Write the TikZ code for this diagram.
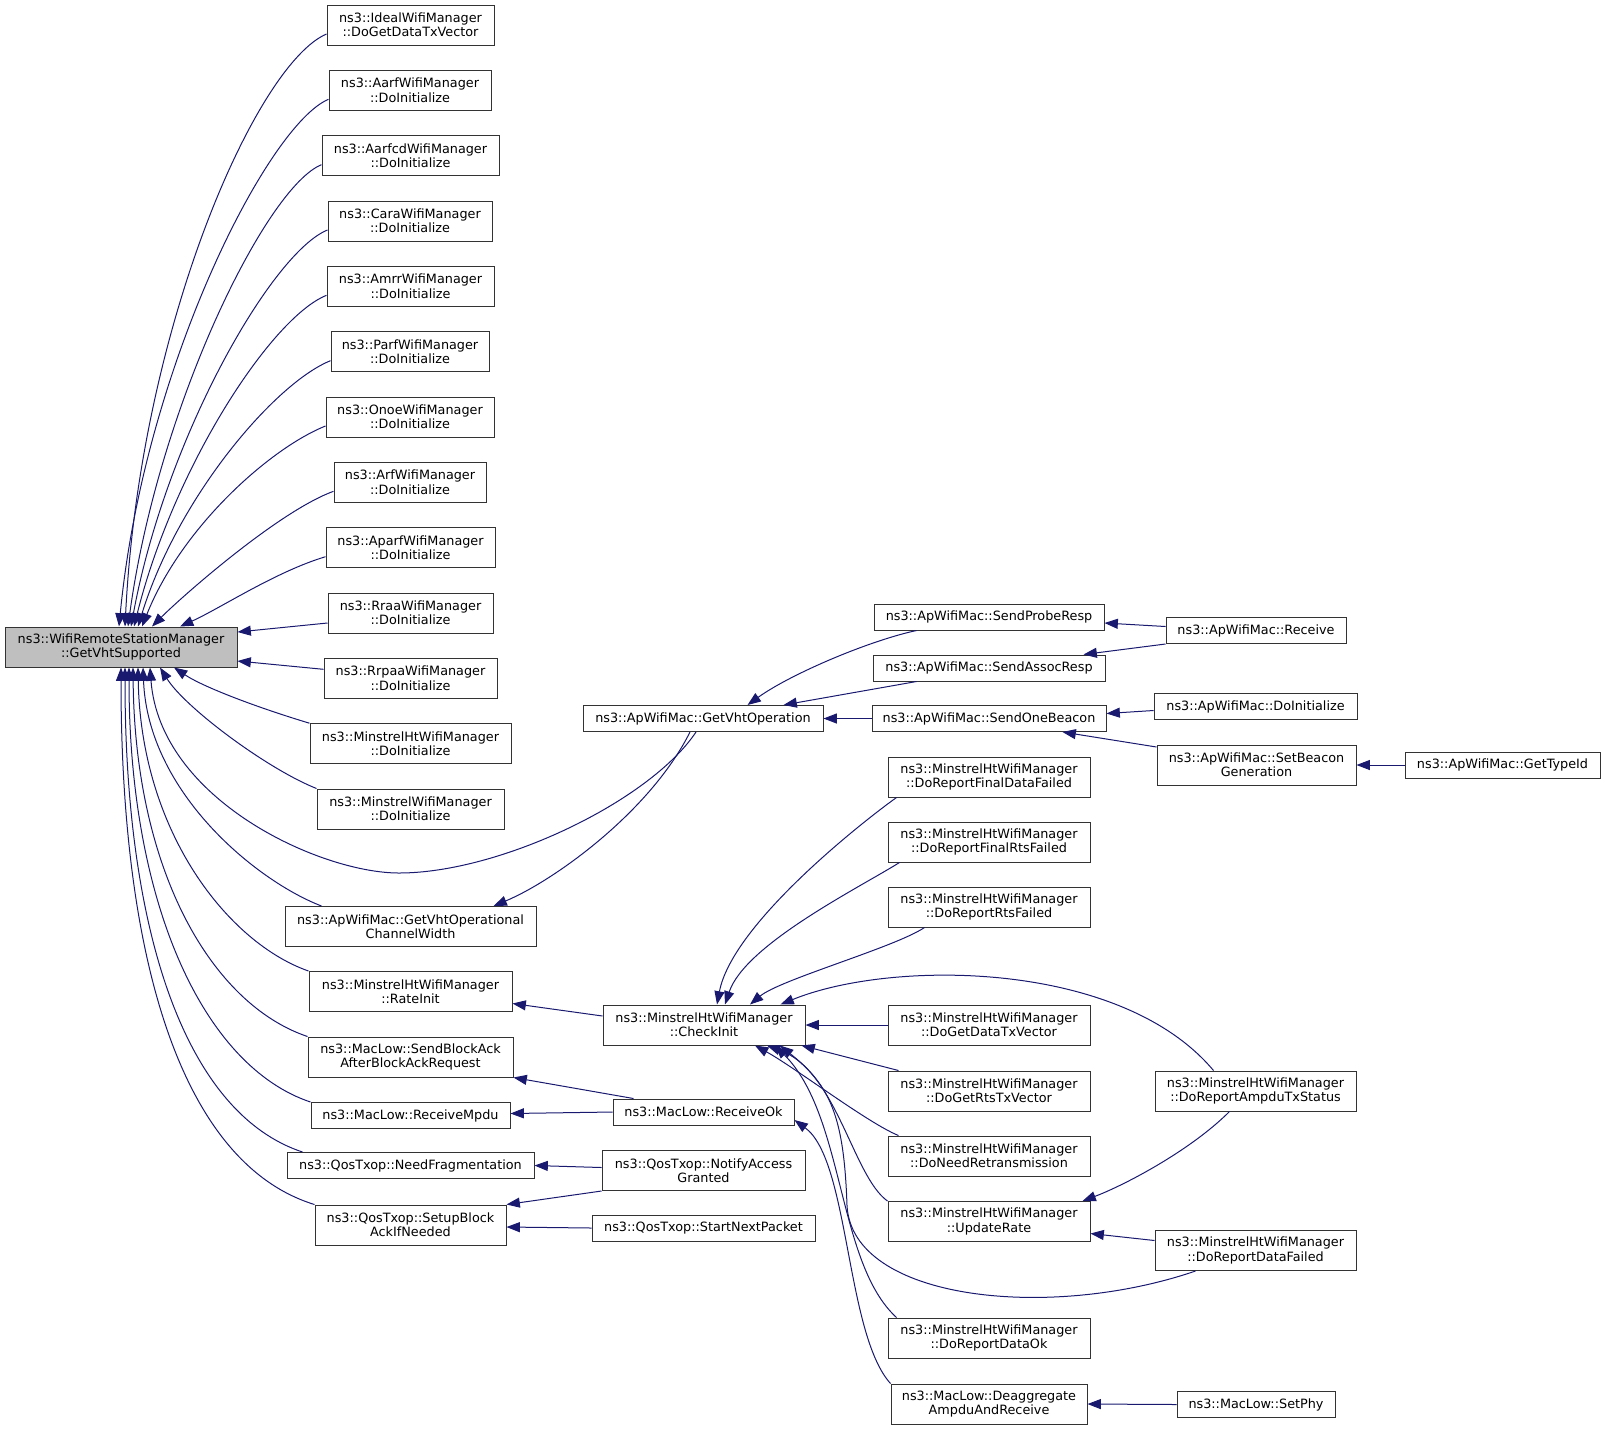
\documentclass[tikz,border=0pt]{standalone}
\usepackage{fontspec}
\setmainfont{DejaVu Sans}
\usepackage{tikz}
\usetikzlibrary{arrows.meta, calc}

\definecolor{edgeblue}{HTML}{191970}
\definecolor{selgray}{HTML}{BFBFBF}

\tikzset{
  fn/.style={draw=black!80, line width=0.75pt, fill=white, align=center,
    inner xsep=1pt, inner ysep=0pt, minimum height=19.5pt,
    minimum width=#1*0.75pt, font=\fontsize{9.6}{10.7}\selectfont},
  fnn/.style={fn=#1, minimum height=30pt},
  call/.style={draw=edgeblue, line width=0.75pt, -{Triangle[length=10pt, width=7.5pt]}}
}

\begin{document}
\begin{tikzpicture}[x=0.75pt, y=-0.75pt]
\useasboundingbox (0,0) rectangle (1605,1429);

% the function itself
\node[fnn=232, fill=selgray] (sup) at (121,647) {ns3::WifiRemoteStationManager\\::GetVhtSupported};

% direct callers
\node[fnn=167] (ideal) at (410.5,25) {ns3::IdealWifiManager\\::DoGetDataTxVector};
\node[fnn=162] (aarf) at (410,90.3) {ns3::AarfWifiManager\\::DoInitialize};
\node[fnn=177] (aarfcd) at (410.5,155.7) {ns3::AarfcdWifiManager\\::DoInitialize};
\node[fnn=164] (cara) at (410,221) {ns3::CaraWifiManager\\::DoInitialize};
\node[fnn=167] (amrr) at (410.5,286.3) {ns3::AmrrWifiManager\\::DoInitialize};
\node[fnn=158] (parf) at (410,351.7) {ns3::ParfWifiManager\\::DoInitialize};
\node[fnn=168] (onoe) at (410,417) {ns3::OnoeWifiManager\\::DoInitialize};
\node[fnn=152] (arf) at (410,482.3) {ns3::ArfWifiManager\\::DoInitialize};
\node[fnn=169] (aparf) at (410.5,547.7) {ns3::AparfWifiManager\\::DoInitialize};
\node[fnn=165] (rraa) at (410.5,613) {ns3::RraaWifiManager\\::DoInitialize};
\node[fnn=173] (rrpaa) at (410.5,678.3) {ns3::RrpaaWifiManager\\::DoInitialize};
\node[fnn=201] (mhtinit) at (410.5,743.7) {ns3::MinstrelHtWifiManager\\::DoInitialize};
\node[fnn=187] (minit) at (410.5,809) {ns3::MinstrelWifiManager\\::DoInitialize};
\node[fnn=251] (chwidth) at (410.5,926.5) {ns3::ApWifiMac::GetVhtOperational\\ChannelWidth};
\node[fnn=203] (rateinit) at (410.5,991.5) {ns3::MinstrelHtWifiManager\\::RateInit};
\node[fnn=205] (blockack) at (410.5,1057) {ns3::MacLow::SendBlockAck\\AfterBlockAckRequest};
\node[fn=199] (rxmpdu) at (410.5,1115.5) {ns3::MacLow::ReceiveMpdu};
\node[fn=247] (needfrag) at (410.5,1165.5) {ns3::QosTxop::NeedFragmentation};
\node[fnn=191] (setupba) at (410.5,1225) {ns3::QosTxop::SetupBlock\\AckIfNeeded};

% second column
\node[fn=240] (vhtop) at (703,718.5) {ns3::ApWifiMac::GetVhtOperation};
\node[fnn=202] (checkinit) at (704,1025) {ns3::MinstrelHtWifiManager\\::CheckInit};
\node[fn=181] (rxok) at (703.5,1112) {ns3::MacLow::ReceiveOk};
\node[fnn=203] (notify) at (703.5,1170.5) {ns3::QosTxop::NotifyAccess\\Granted};
\node[fn=223] (startnext) at (703.5,1228) {ns3::QosTxop::StartNextPacket};

% third column
\node[fn=230] (proberesp) at (989,617) {ns3::ApWifiMac::SendProbeResp};
\node[fn=232] (assocresp) at (989,668) {ns3::ApWifiMac::SendAssocResp};
\node[fn=234] (onebeacon) at (989,718.5) {ns3::ApWifiMac::SendOneBeacon};
\node[fnn=202] (finaldata) at (989,777) {ns3::MinstrelHtWifiManager\\::DoReportFinalDataFailed};
\node[fnn=202] (finalrts) at (989,842) {ns3::MinstrelHtWifiManager\\::DoReportFinalRtsFailed};
\node[fnn=202] (rtsfailed) at (989,907) {ns3::MinstrelHtWifiManager\\::DoReportRtsFailed};
\node[fnn=202] (gettx) at (989,1025) {ns3::MinstrelHtWifiManager\\::DoGetDataTxVector};
\node[fnn=202] (getrts) at (989,1091) {ns3::MinstrelHtWifiManager\\::DoGetRtsTxVector};
\node[fnn=202] (needretx) at (989,1156) {ns3::MinstrelHtWifiManager\\::DoNeedRetransmission};
\node[fnn=202] (updrate) at (989,1221.5) {ns3::MinstrelHtWifiManager\\::UpdateRate};
\node[fnn=202] (dataok) at (989,1338) {ns3::MinstrelHtWifiManager\\::DoReportDataOk};
\node[fnn=196] (deaggr) at (989,1404) {ns3::MacLow::Deaggregate\\AmpduAndReceive};

% fourth and fifth column
\node[fn=180] (receive) at (1256,630.5) {ns3::ApWifiMac::Receive};
\node[fn=203] (apinit) at (1255.5,706.5) {ns3::ApWifiMac::DoInitialize};
\node[fnn=199] (setbeacon) at (1256.5,765) {ns3::ApWifiMac::SetBeacon\\Generation};
\node[fnn=201] (ampdutx) at (1255.5,1091) {ns3::MinstrelHtWifiManager\\::DoReportAmpduTxStatus};
\node[fnn=201] (datafailed) at (1255.5,1250.5) {ns3::MinstrelHtWifiManager\\::DoReportDataFailed};
\node[fn=158] (setphy) at (1256,1404.5) {ns3::MacLow::SetPhy};
\node[fn=195] (typeid) at (1502.5,765) {ns3::ApWifiMac::GetTypeId};

% calls into GetVhtSupported, from above
\draw[call] ($(ideal.west)+(0,9)$) .. controls +(-70,30) and +(15,-300) .. ($(sup.north)+(4,0)$);
\draw[call] ($(aarf.west)+(0,9)$) .. controls +(-60,25) and +(25,-260) .. ($(sup.north)+(-2,0)$);
\draw[call] ($(aarfcd.west)+(0,9)$) .. controls +(-55,22) and +(30,-220) .. ($(sup.north)+(7,0)$);
\draw[call] ($(cara.west)+(0,9)$) .. controls +(-55,22) and +(35,-190) .. ($(sup.north)+(10,0)$);
\draw[call] ($(amrr.west)+(0,9)$) .. controls +(-55,22) and +(40,-160) .. ($(sup.north)+(13,0)$);
\draw[call] ($(parf.west)+(0,9)$) .. controls +(-55,22) and +(40,-130) .. ($(sup.north)+(17,0)$);
\draw[call] ($(onoe.west)+(0,9)$) .. controls +(-55,22) and +(40,-100) .. ($(sup.north)+(21,0)$);
\draw[call] ($(arf.west)+(0,9)$) .. controls +(-55,20) and +(30,-30) .. ($(sup.north)+(31,0)$);
\draw[call] ($(aparf.west)+(0,9)$) .. controls +(-50,15) and +(40,-18) .. ($(sup.north)+(59,0)$);
\draw[call] ($(rraa.west)+(0,10)$) -- ($(sup.east)+(0,-15)$);
\draw[call] ($(rrpaa.west)+(0,-9)$) -- ($(sup.east)+(0,14)$);

% calls into GetVhtSupported, from below
\draw[call] (mhtinit.north west) .. controls +(-50,-15) and +(30,20) .. ($(sup.south)+(53,0)$);
\draw[call] (minit.north west) .. controls +(-50,-20) and +(25,40) .. ($(sup.south)+(39,0)$);
\draw[call] ($(vhtop.south)+(-7,0)$) .. controls +(-46,69) and +(101,0) .. ($(vhtop.south)+(-304,141)$)
  .. controls +(-79,0) and +(10,132) .. ($(sup.south)+(29,0)$);
\draw[call] ($(chwidth.north west)+(37,0)$) .. controls +(-65,-25) and +(5,125) .. ($(sup.south)+(22,0)$);
\draw[call] (rateinit.north west) .. controls +(-80,-28) and +(3,165) .. ($(sup.south)+(17,0)$);
\draw[call] (blockack.north west) .. controls +(-95,-32) and +(2,205) .. ($(sup.south)+(12,0)$);
\draw[call] (rxmpdu.north west) .. controls +(-105,-35) and +(0,240) .. ($(sup.south)+(8,0)$);
\draw[call] ($(needfrag.north west)+(16,0)$) .. controls +(-115,-38) and +(0,270) .. ($(sup.south)+(4,0)$);
\draw[call] (setupba.north west) .. controls +(-130,-40) and +(0,300) .. (sup.south);

% GetVhtOperation and its callers
\draw[call] ($(vhtop.south)+(-13,0)$) .. controls +(-40,80) and +(60,-25) .. ($(chwidth.north east)+(-43,0)$);
\draw[call] ($(proberesp.south west)+(43,0)$) .. controls +(-47,10) and +(43,-31) .. ($(vhtop.north east)+(-76,0)$);
\draw[call] ($(assocresp.south west)+(44,0)$) -- ($(vhtop.north east)+(-40,0)$);
\draw[call] (onebeacon.west) -- (vhtop.east);
\draw[call] ($(receive.west)+(0,-4)$) -- ($(proberesp.east)+(0,6)$);
\draw[call] (receive.south west) -- ($(assocresp.north east)+(-22,0)$);
\draw[call] ($(apinit.west)+(0,4)$) -- ($(onebeacon.east)+(0,-5)$);
\draw[call] ($(setbeacon.west)+(0,-18)$) -- ($(onebeacon.south east)+(-44,0)$);
\draw[call] (typeid.west) -- (setbeacon.east);

% CheckInit and its callers
\draw[call] ($(checkinit.west)+(0,-9)$) -- ($(rateinit.east)+(0,12)$);
\draw[call] ($(finaldata.south west)+(9,0)$) .. controls +(-35,25) and +(15,-80) .. ($(checkinit.north)+(13,0)$);
\draw[call] ($(finalrts.south west)+(12,0)$) .. controls +(-40,25) and +(20,-60) .. ($(checkinit.north)+(21,0)$);
\draw[call] ($(rtsfailed.south west)+(37,0)$) .. controls +(-30,20) and +(30,-25) .. ($(checkinit.north)+(46,0)$);
\draw[call] ($(ampdutx.north)+(-42,0)$) .. controls +(-93,-111) and +(110,-45) .. ($(checkinit.north east)+(-25,0)$);
\draw[call] (gettx.west) -- (checkinit.east);
\draw[call] ($(getrts.north west)+(11,0)$) -- ($(checkinit.south east)+(-4,0)$);
\draw[call] ($(needretx.north west)+(11,0)$) .. controls +(-30,-12) and +(40,22) .. ($(checkinit.south)+(51,0)$);
\draw[call] (updrate.north west) .. controls +(-35,-25) and +(70,25) .. ($(checkinit.south)+(63,0)$);
\draw[call] ($(dataok.north west)+(9,0)$) .. controls +(-60,-55) and +(70,70) .. ($(checkinit.south)+(71,0)$);
\draw[call] ($(datafailed.south west)+(41,0)$) .. controls +(-146,50) and +(5,95) .. ($(checkinit.south)+(143,160)$)
  .. controls +(-3,-90) and +(50,40) .. ($(checkinit.south)+(76,0)$);
\draw[call] ($(ampdutx.south)+(-26,0)$) .. controls +(-40,40) and +(40,-15) .. ($(updrate.north east)+(-8,0)$);
\draw[call] ($(datafailed.west)+(0,-10)$) -- ($(updrate.east)+(0,12)$);

% MacLow and QosTxop
\draw[call] ($(rxok.north west)+(21,0)$) -- (blockack.south east);
\draw[call] (rxok.west) -- ($(rxmpdu.east)+(0,-2)$);
\draw[call] (deaggr.north west) .. controls +(-45,-50) and +(55,40) .. ($(rxok.east)+(0,8)$);
\draw[call] (setphy.west) -- (deaggr.east);
\draw[call] ($(notify.west)+(0,-3)$) -- (needfrag.east);
\draw[call] (notify.south west) -- (setupba.north east);
\draw[call] (startnext.west) -- ($(setupba.east)+(0,2)$);
\end{tikzpicture}
\end{document}
